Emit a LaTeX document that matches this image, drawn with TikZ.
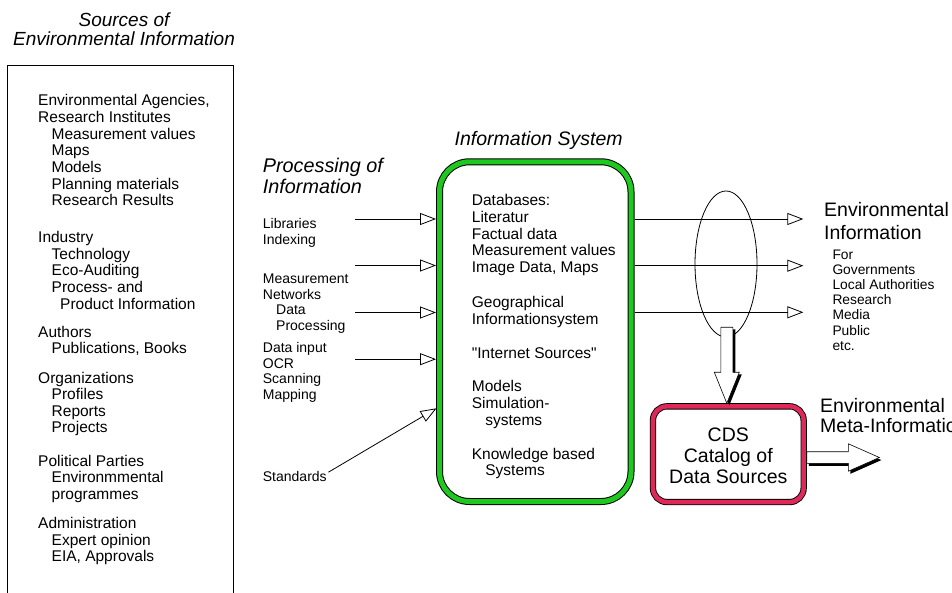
\documentclass[tikz,border=0pt]{standalone}
\usepackage{fontspec}
\setmainfont{Liberation Sans}[Ligatures=TeXOff]
\usetikzlibrary{arrows.meta,shapes.geometric,calc}
\definecolor{boxgreen}{RGB}{30,200,30}
\definecolor{cdsred}{RGB}{222,40,90}
\newcommand\myfA{\fontsize{15.5}{16.65}\selectfont}
\newcommand\myfS{\fontsize{14}{15.5}\selectfont}
\newcommand\myfL{\fontsize{13.8}{15.1}\selectfont}
\newcommand\myind{\hspace*{13.5pt}}
\begin{document}
\begin{tikzpicture}[x=1pt,y=-1pt,
  txt/.style={inner sep=0pt, anchor=base west, align=left},
  ttl/.style={inner sep=0pt, font=\fontsize{19.5}{21.7}\selectfont\itshape},
  oarr/.style={line width=0.8pt, -{Triangle[open,length=16pt,width=12pt]}},
  shd/.style={fill=black},
  bigarr/.style={fill=white, draw=black, line width=0.6pt}
]
\useasboundingbox (0,0) rectangle (952,593);

% ---------- left column (multi-line nodes are placed by the baseline of their last line) ----------
\node[ttl, anchor=base, align=center, font=\fontsize{19}{19}\selectfont\itshape] (srctitle) at (124,45.7)
  {Sources of\\Environmental Information};
\draw[line width=0.8pt] (7.5,593) -- (7.5,65.5) -- (233,65.5) -- (233,593);

\node[txt, font=\myfA] (g1) at (38,205.9) {Environmental Agencies,\\Research Institutes\\\myind Measurement values\\\myind Maps\\\myind Models\\\myind Planning materials\\\myind Research Results};
\node[txt, font=\myfA] (g2) at (38,309.1) {Industry\\\myind Technology\\\myind Eco-Auditing\\\myind Process- and\\\hspace*{22pt}Product Information};
\node[txt, font=\myfA] (g3) at (38,353.65) {Authors\\\myind Publications, Books};
\node[txt, font=\myfA] (g4) at (38,432.95) {Organizations\\\myind Profiles\\\myind Reports\\\myind Projects};
\node[txt, font=\myfA] (g5) at (38,499.3) {Political Parties\\\myind Environmmental\\\myind programmes};
\node[txt, font=\myfA] (g6) at (38,561.8) {Administration\\\myind Expert opinion\\\myind EIA, Approvals};

% ---------- processing ----------
\node[ttl, txt, font=\fontsize{19.8}{21.7}\selectfont\itshape] (proctitle) at (262.7,194) {Processing of\\Information};
\node[txt, font=\fontsize{14}{16}\selectfont] (p1) at (262.7,244.8) {Libraries\\Indexing};
\node[txt, font=\myfS] (p2) at (262.7,330.3) {Measurement\\Networks\\\hspace*{13.3pt}Data\\\hspace*{13.3pt}Processing};
\node[txt, font=\fontsize{14}{15.4}\selectfont] (p3) at (262.7,399) {Data input\\OCR\\Scanning\\Mapping};
\node[txt, font=\myfS] (std) at (262.7,481.2) {Standards};

% ---------- information system ----------
\node[ttl, anchor=base] (istitle) at (538.7,146) {Information System};
\node[draw=black, line width=1pt, double=boxgreen, double distance=5pt, rounded corners=30pt,
      minimum width=191.5pt, minimum height=339.7pt, outer sep=3.5pt] (gbox) at (535.25,331.65) {};
\node[txt, font=\myfA] (d1) at (471.7,272.6) {Databases:\\Literatur\\Factual data\\Measurement values\\Image Data, Maps};
\node[txt, font=\myfA] (d2) at (471.7,324.35) {Geographical\\Informationsystem};
\node[txt, font=\myfA] (d3) at (471.7,358.3) {"Internet Sources"};
\node[txt, font=\myfA] (d4) at (471.7,425) {Models\\Simulation-\\\myind systems};
\node[txt, font=\myfA] (d5) at (471.7,475.65) {Knowledge based\\\myind Systems};

% input arrows
\coordinate (in1) at (355,219);
\coordinate (in2) at (355,265.5);
\coordinate (in3) at (355,312.5);
\coordinate (in4) at (355,359.2);
\coordinate (stdtip) at (436.5,408.3);
\foreach \c in {in1,in2,in3,in4} \draw[oarr] (\c) -- (\c -| gbox.west);
\draw[oarr] ([xshift=1.5pt,yshift=4pt]std.east) -- (stdtip);

% ---------- outputs ----------
\node[ellipse, draw, line width=0.8pt, minimum width=62pt, minimum height=146pt, inner sep=0pt] (ell) at (726,264) {};
\coordinate (out1) at (803.3,219);
\coordinate (out2) at (803.3,265.7);
\coordinate (out3) at (803.3,312.3);
\foreach \c in {out1,out2,out3} \draw[oarr] (\c -| gbox.east) -- (\c);

\node[txt, font=\fontsize{19.5}{23}\selectfont] (envinfo) at (824,239.5) {Environmental\\Information};
\node[txt, font=\myfL] (users) at (832.3,350.1) {For\\Governments\\Local Authorities\\Research\\Media\\Public\\etc.};

% ---------- CDS ----------
\node[draw=black, line width=0.9pt, double=cdsred, double distance=4.5pt, rounded corners=14pt,
      minimum width=150.7pt, minimum height=95.7pt, outer sep=3.1pt] (cds) at (728.3,454.2) {};
\node[align=center, inner sep=0pt, anchor=base, font=\fontsize{19.5}{21}\selectfont] (cdstext) at (728.3,483.5) {CDS\\Catalog of\\Data Sources};

% big down arrow from ellipse to CDS
\begin{scope}[shift={($(cds.north)+(-1.5,0)$)}]
  \begin{scope}[shift={(2.5,2)}]
    \fill[shd] (0,0) -- (12.5,-31) -- (6,-31) -- (6,-76) -- (-6,-76) -- (-6,-31) -- (-12.5,-31) -- cycle;
  \end{scope}
  \draw[bigarr] (0,0) -- (12.5,-31) -- (6,-31) -- (6,-76) -- (-6,-76) -- (-6,-31) -- (-12.5,-31) -- cycle;
\end{scope}

% big right arrow out of CDS
\begin{scope}[shift={($(cds.east)+(0,3.3)$)}]
  \begin{scope}[shift={(2,2.6)}]
    \fill[shd] (0,-5.8) -- (41.6,-5.8) -- (41.6,-13.7) -- (72.6,0) -- (41.6,13.7) -- (41.6,5.8) -- (0,5.8) -- cycle;
  \end{scope}
  \draw[bigarr] (0,-5.8) -- (41.6,-5.8) -- (41.6,-13.7) -- (72.6,0) -- (41.6,13.7) -- (41.6,5.8) -- (0,5.8) -- cycle;
\end{scope}

\begin{scope}
  \clip (0,0) rectangle (952,593);
  \node[txt, font=\fontsize{19.5}{19.7}\selectfont] (meta) at (820,432.2) {Environmental\\Meta-Information};
\end{scope}
\end{tikzpicture}
\end{document}
